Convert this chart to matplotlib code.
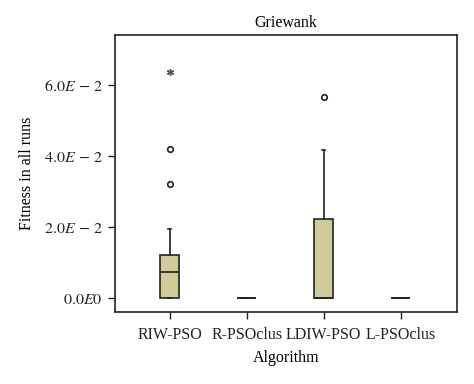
import matplotlib
matplotlib.use("Agg")
import matplotlib.pyplot as plt

# ---------------- DATA ----------------
algorithms = ["RIW-PSO", "R-PSOclus", "LDIW-PSO", "L-PSOclus"]
q1 = [0.0, 0.0, 0.0, 0.0]
medians = [0.0074, 0.0, 0.0, 0.0]
q3 = [0.0123, 0.0, 0.0222, 0.0]
whisk_lo = [0.0, 0.0, 0.0, 0.0]
whisk_hi = [0.0196, 0.0, 0.0417, 0.0]
outliers = [[0.0320, 0.0419], [], [0.0564], []]
extremes = [[0.0634], [], [], []]

ytick_vals = [0.0, 0.02, 0.04, 0.06]
ytick_labels = [r"$0.0E0$", r"$2.0E\,-\,2$", r"$4.0E\,-\,2$", r"$6.0E\,-\,2$"]

# ---------------- STYLE ----------------
plt.rcParams["font.family"] = ["Liberation Serif", "DejaVu Serif"]
plt.rcParams["mathtext.fontset"] = "stix"
box_color = "#cdcb98"

fig = plt.figure(figsize=(4.74, 3.84), dpi=100)
ax = fig.add_axes([0.2426, 0.1875, 0.7215, 0.7214])

stats = []
for i, name in enumerate(algorithms):
    stats.append({
        "label": name,
        "q1": q1[i], "med": medians[i], "q3": q3[i],
        "whislo": whisk_lo[i], "whishi": whisk_hi[i],
        "fliers": outliers[i],
    })

positions = list(range(1, len(algorithms) + 1))
ax.bxp(stats, positions=positions, widths=0.25, patch_artist=True,
       showcaps=True,
       boxprops=dict(facecolor=box_color, edgecolor="#222222", linewidth=1.2),
       medianprops=dict(color="#222222", linewidth=1.2),
       whiskerprops=dict(color="#222222", linewidth=1.2),
       capprops=dict(color="#222222", linewidth=1.2),
       capwidths=0.04,
       flierprops=dict(marker="o", markersize=4, markerfacecolor="white",
                       markeredgecolor="#222222", markeredgewidth=1.2))

# extreme values drawn as stars
for p, vals in zip(positions, extremes):
    if vals:
        ax.plot([p] * len(vals), vals, linestyle="none", marker=(6, 2, 0),
                markersize=5, color="#555555", markeredgewidth=1.0)

ax.set_xlim(1 - 0.71, 4 + 0.73)
ax.set_ylim(-0.0038, 0.0739)
ax.set_yticks(ytick_vals)
ax.set_yticklabels(ytick_labels)
ax.set_xticks(positions)
ax.set_xticklabels(algorithms)

ax.tick_params(direction="out", length=5, width=1.0, labelsize=11.5,
               colors="#222222", pad=4)
ax.tick_params(axis="x", pad=6)
for s in ax.spines.values():
    s.set_linewidth(1.2)
    s.set_color("#222222")

ax.set_title("Griewank", fontsize=11.5, pad=6)
ax.set_xlabel("Algorithm", fontsize=11.5, labelpad=5)
ax.set_ylabel("Fitness in all runs", fontsize=11.5, labelpad=6)

fig.savefig("out.png", dpi=100)
